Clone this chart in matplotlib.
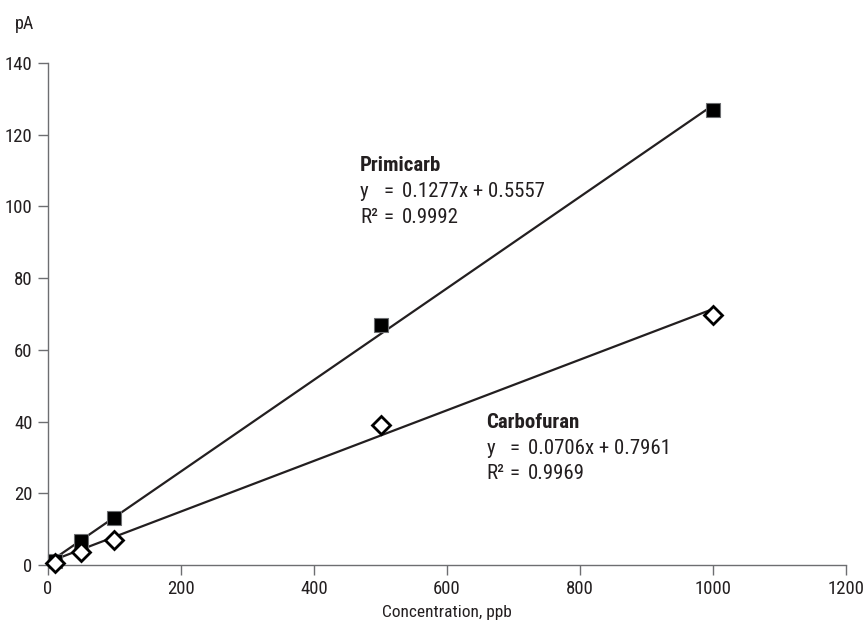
import matplotlib
matplotlib.use("Agg")
import matplotlib.pyplot as plt
from matplotlib import font_manager
import numpy as np

# concentrations (ppb) and detector response (pA)
conc = [10, 50, 100, 500, 1000]
primicarb = [1.2, 6.7, 13.0, 66.8, 126.9]
carbofuran = [0.5, 3.7, 7.0, 39.1, 69.8]

# fitted lines
prim_fit = (0.1277, 0.5557, 0.9992)
carb_fit = (0.0706, 0.7961, 0.9969)

ink = '#231f20'
axis_grey = '#6d6e71'

# the original uses a condensed sans; take what is there
names = {f.name for f in font_manager.fontManager.ttflist}
stretch = 'normal'
family = 'Liberation Sans'
for cand in ['Liberation Sans Narrow', 'Roboto Condensed', 'Open Sans Condensed',
             'Noto Sans Condensed', 'DejaVu Sans Condensed']:
    if cand in names:
        family = cand
        break
else:
    cond = [f for f in font_manager.fontManager.ttflist
            if 'Condensed' in f.fname or 'Narrow' in f.fname]
    if cond:
        family = cond[0].name
        stretch = 'condensed'
plt.rcParams['font.family'] = [family, 'DejaVu Sans']
plt.rcParams['font.stretch'] = stretch

fig = plt.figure(figsize=(8.66, 6.27), dpi=100)
ax = fig.add_axes([0.0554, 0.0989, 0.9216, 0.8006])

xs = np.array([conc[0], conc[-1]])
ax.plot(xs, prim_fit[0] * xs + prim_fit[1], color=ink, lw=1.6, zorder=2)
ax.plot(xs, carb_fit[0] * xs + carb_fit[1], color=ink, lw=1.6, zorder=2)

ax.plot(conc, primicarb, ls='none', marker='s', ms=10.5, mfc='black',
        mec=axis_grey, mew=0.8, zorder=3, clip_on=False)
ax.plot(conc, carbofuran, ls='none', marker='D', ms=9, mfc='white',
        mec='black', mew=2.0, zorder=4, clip_on=False)

ax.set_xlim(0, 1200)
ax.set_ylim(0, 140)
ax.set_xticks(range(0, 1201, 200))
ax.set_yticks(range(0, 141, 20))
for s in ['top', 'right']:
    ax.spines[s].set_visible(False)
for s in ['left', 'bottom']:
    ax.spines[s].set_color(axis_grey)
    ax.spines[s].set_linewidth(1.0)
ax.tick_params(axis='both', direction='out', length=7, width=1.0,
               color=axis_grey, labelsize=13.5, labelcolor=ink, pad=4)

ax.set_xlabel('Concentration, ppb', fontsize=12.5, color=ink, labelpad=5)
fig.text(0.017, 0.962, 'pA', fontsize=13, color=ink, ha='left', va='center')


def label(x, y, name, fit):
    kw = dict(fontsize=15, color=ink, ha='left', va='center')
    ax.text(x, y, name, fontweight='bold', **kw)
    rows = [('y', '%.4fx + %.4f' % (fit[0], fit[1])),
            ('R\u00b2', '%.4f' % fit[2])]
    for i, (lhs, rhs) in enumerate(rows):
        yy = y - 7.2 * (i + 1)
        ax.text(x, yy, lhs, **kw)
        ax.text(x + 35, yy, '=', **kw)
        ax.text(x + 63, yy, rhs, **kw)


label(469, 111.3, 'Primicarb', prim_fit)
label(659, 39.8, 'Carbofuran', carb_fit)

fig.savefig('out.png', dpi=100)
